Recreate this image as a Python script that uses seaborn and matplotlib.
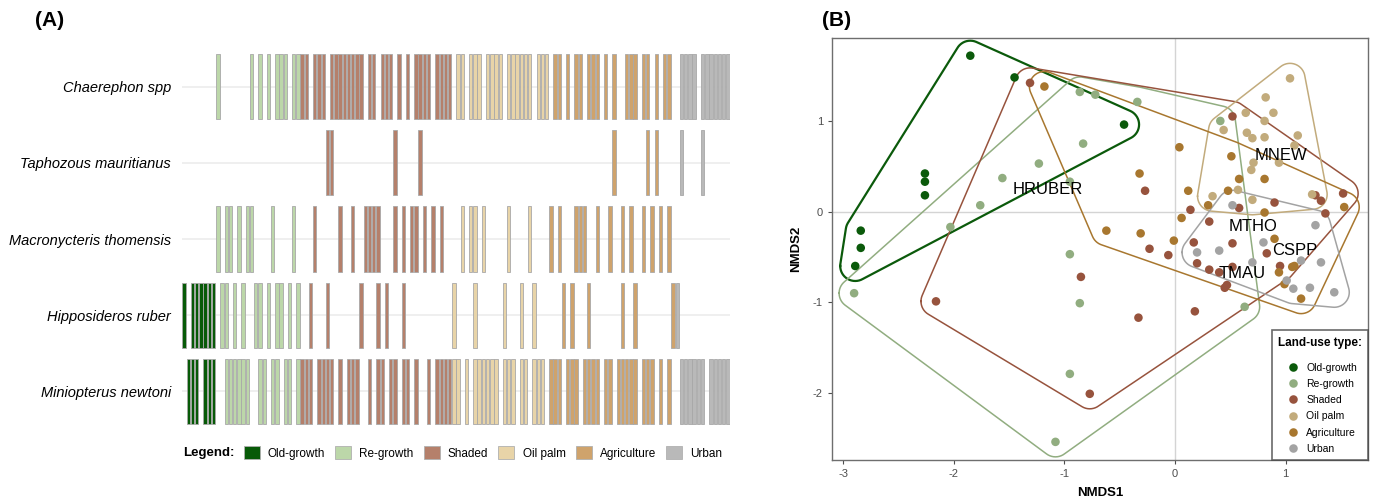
import numpy as np
import pandas as pd
import seaborn as sns
import matplotlib.pyplot as plt
from matplotlib.patches import Patch

# land-use types and colours
land_uses = ['Old-growth', 'Re-growth', 'Shaded', 'Oil palm', 'Agriculture', 'Urban']
bar_colors = ['#075a07', '#bcd7a9', '#b5806b', '#e8d4a8', '#cfa36c', '#b9b9b9']
point_colors = ['#0b5a0b', '#91ad80', '#97533d', '#c2ab7c', '#a8772f', '#a3a3a3']
sites_per_use = [8, 20, 36, 23, 30, 13]

# (A) sites (ordered by land use) where each species was detected
species = ['Chaerephon spp', 'Taphozous mauritianus', 'Macronycteris thomensis',
           'Hipposideros ruber', 'Miniopterus newtoni']
chaerephon = [8, 16, 18, 20, 22, 23, 24, 26, 27,
              28, 29, 31, 32, 33, 35, 36, 37, 38, 39, 40, 41, 42, 44, 45, 47, 48, 49, 51, 53, 55,
              56, 57, 58, 60, 61, 62, 63,
              65, 66, 68, 69, 70, 72, 73, 74, 75, 77, 78, 79, 80, 81, 82, 84, 85, 86,
              88, 89, 91, 93, 94, 96, 97, 98, 100, 102, 105, 106, 107, 109, 110, 112, 114, 115,
              118, 119, 120, 121, 123, 124, 125, 126, 127, 128, 129]
taphozous = [34, 35, 50, 56, 102, 110, 112, 118, 123]
macronycteris = [8, 10, 11, 13, 15, 16, 21, 26,
                 31, 37, 40, 43, 44, 45, 46, 50, 52, 54, 55, 57, 59, 61,
                 66, 68, 69, 71, 77, 82,
                 87, 89, 93, 94, 95, 98, 101, 104, 106, 109, 111, 113, 115]
hipposideros = [0, 2, 3, 4, 5, 6, 7,
                9, 10, 12, 14, 17, 18, 20, 22, 23, 25, 27,
                30, 34, 42, 46, 48, 52,
                64, 69, 76, 80, 83,
                90, 92, 96, 104, 107, 116, 117]
miniopterus = [1, 2, 3, 5, 6, 7,
               10, 11, 12, 13, 14, 15, 18, 19, 21, 22, 24, 25, 27,
               28, 29, 30, 32, 33, 34, 35, 37, 39, 40, 41, 44, 46, 47, 49, 50, 52, 53, 55, 58,
               60, 61, 62, 63,
               64, 65, 67, 69, 70, 71, 72, 73, 74, 76, 77, 78, 80, 81, 83, 84, 85,
               87, 88, 89, 91, 92, 93, 95, 96, 97, 98, 100, 101, 103, 104, 105, 106, 107, 109,
               110, 111, 113, 115,
               118, 119, 120, 121, 122, 123, 125, 126, 127, 128, 129]
presence = [chaerephon, taphozous, macronycteris, hipposideros, miniopterus]

# (B) NMDS site scores per land use
oldgrowth_pts = [(-1.85, 1.72), (-1.45, 1.48), (-0.46, 0.96), (-2.26, 0.42), (-2.26, 0.33),
                 (-2.26, 0.18), (-2.84, -0.21), (-2.84, -0.40), (-2.89, -0.60)]
regrowth_pts = [(-0.86, 1.32), (-0.72, 1.29), (-0.34, 1.21), (0.41, 1.00), (-0.83, 0.75),
                (-1.23, 0.53), (-1.56, 0.37), (-0.95, 0.33), (-1.76, 0.07), (-2.03, -0.17),
                (-2.90, -0.90), (-0.95, -0.47), (-0.86, -1.01), (-0.95, -1.79), (-1.08, -2.54),
                (0.63, -1.05)]
shaded_pts = [(-1.31, 1.42), (0.52, 1.05), (-0.27, 0.23), (0.14, 0.02), (0.58, 0.04),
              (0.31, -0.11), (0.90, 0.10), (1.27, 0.18), (1.32, 0.12), (1.36, -0.02),
              (1.52, 0.20), (0.17, -0.34), (0.52, -0.35), (-0.23, -0.41), (-0.06, -0.48),
              (0.20, -0.57), (0.31, -0.64), (0.40, -0.67), (0.52, -0.61), (0.47, -0.81),
              (0.45, -0.84), (0.83, -0.46), (0.95, -0.60), (-0.85, -0.72), (-2.16, -0.99),
              (-0.33, -1.17), (0.18, -1.10), (-0.77, -2.01)]
oilpalm_pts = [(1.04, 1.47), (0.82, 1.26), (0.64, 1.09), (0.89, 1.09), (0.81, 1.00),
               (0.44, 0.90), (0.65, 0.87), (0.70, 0.81), (0.81, 0.82), (1.11, 0.84),
               (1.08, 0.73), (0.94, 0.54), (0.71, 0.54), (0.69, 0.46), (0.34, 0.17),
               (0.57, 0.24), (0.70, 0.13), (1.24, 0.19)]
agriculture_pts = [(-1.18, 1.38), (0.04, 0.71), (-0.32, 0.42), (0.12, 0.23), (0.48, 0.23),
                   (0.81, 0.36), (0.58, 0.36), (0.51, 0.61), (0.30, 0.07), (0.06, -0.07),
                   (0.81, -0.01), (1.53, 0.05), (0.90, -0.30), (-0.62, -0.21), (-0.31, -0.24),
                   (-0.01, -0.32), (0.94, -0.67), (0.99, -0.80), (1.06, -0.61), (1.08, -0.60),
                   (1.14, -0.96)]
urban_pts = [(0.52, 0.07), (1.27, -0.15), (0.80, -0.34), (0.20, -0.45), (0.40, -0.43),
             (0.70, -0.56), (1.14, -0.54), (1.32, -0.56), (1.01, -0.76), (1.07, -0.85),
             (1.22, -0.84), (1.44, -0.89)]
group_pts = [oldgrowth_pts, regrowth_pts, shaded_pts, oilpalm_pts, agriculture_pts, urban_pts]

species_codes = ['HRUBER', 'MNEW', 'MTHO', 'CSPP', 'TMAU']
code_x = [-1.15, 0.96, 0.71, 1.08, 0.61]
code_y = [0.24, 0.62, -0.16, -0.43, -0.68]

plt.rcParams['font.family'] = ['Liberation Sans', 'DejaVu Sans']
plt.rcParams['axes.unicode_minus'] = False

fig = plt.figure(figsize=(13.84, 4.98), dpi=100)

# ---------------- (A) presence barcode ----------------
axA = fig.add_axes([182 / 1384, 1 - 433 / 498, 548 / 1384, 388 / 498])
bounds = np.cumsum([0] + sites_per_use)


def site_color(s):
    k = np.searchsorted(bounds, s, side='right') - 1
    return bar_colors[k]


for i, sites in enumerate(presence):
    axA.axhline(i, color='#ececec', lw=1.2, zorder=0)
    axA.bar(sites, 0.855, bottom=i - 0.4275, width=0.8,
            color=[site_color(s) for s in sites], edgecolor='#a8a8a8', linewidth=0.6, zorder=2)

axA.set_xlim(-0.5, sum(sites_per_use) - 0.5)
axA.set_ylim(4.55, -0.55)
axA.set_yticks(range(len(species)))
axA.set_yticklabels(species, fontstyle='italic', fontsize=10.5)
axA.tick_params(axis='y', length=0, pad=8)
axA.set_xticks([])
for sp in axA.spines.values():
    sp.set_visible(False)

handles = [Patch(facecolor=c, edgecolor='#b0b0b0', linewidth=0.6) for c in bar_colors]
fig.text(183 / 1384, 1 - 453 / 498, 'Legend:', fontsize=9.5, fontweight='bold', va='center')
fig.legend(handles, land_uses, ncol=6, loc='center left', bbox_to_anchor=(233 / 1384, 1 - 453 / 498),
           frameon=False, fontsize=8.5, handlelength=1.35, handleheight=1.35,
           handletextpad=0.7, columnspacing=0.85)

# ---------------- (B) NMDS ----------------
axB = fig.add_axes([832 / 1384, 1 - 460 / 498, 536 / 1384, 422 / 498])

rows = []
for lu, pts in zip(land_uses, group_pts):
    for x, y in pts:
        rows.append((lu, x, y))
df = pd.DataFrame(rows, columns=['Land use', 'NMDS1', 'NMDS2'])

sx, sy = 110.5, 90.7


def rounded_hull(x, y, r=15):
    P = np.column_stack([np.asarray(x) * sx, np.asarray(y) * sy])
    ang = np.linspace(0, 2 * np.pi, 48, endpoint=False)
    circ = r * np.column_stack([np.cos(ang), np.sin(ang)])
    pts = sorted(map(tuple, (P[:, None, :] + circ[None, :, :]).reshape(-1, 2)))

    def cross(o, a, b):
        return (a[0] - o[0]) * (b[1] - o[1]) - (a[1] - o[1]) * (b[0] - o[0])
    lower, upper = [], []
    for p in pts:
        while len(lower) >= 2 and cross(lower[-2], lower[-1], p) <= 0:
            lower.pop()
        lower.append(p)
    for p in reversed(pts):
        while len(upper) >= 2 and cross(upper[-2], upper[-1], p) <= 0:
            upper.pop()
        upper.append(p)
    h = np.array(lower[:-1] + upper[:-1])
    h = np.vstack([h, h[:1]])
    return h[:, 0] / sx, h[:, 1] / sy


axB.axhline(0, color='#d4d4d4', lw=1, zorder=0)
axB.axvline(0, color='#d4d4d4', lw=1, zorder=0)
for k, lu in enumerate(land_uses):
    sub = df[df['Land use'] == lu]
    hx, hy = rounded_hull(sub['NMDS1'], sub['NMDS2'])
    axB.plot(hx, hy, color=point_colors[k], lw=1.6 if k == 0 else 1.1, zorder=1)

sns.scatterplot(data=df, x='NMDS1', y='NMDS2', hue='Land use', hue_order=land_uses,
                palette=point_colors, s=38, edgecolor='none', ax=axB, zorder=3)

for code, x, y in zip(species_codes, code_x, code_y):
    axB.text(x, y, code, fontsize=12, ha='center', va='center', zorder=4)

axB.set_xlim(-3.1, 1.745)
axB.set_ylim(-2.74, 1.915)
axB.set_xticks([-3, -2, -1, 0, 1])
axB.set_yticks([-2, -1, 0, 1])
axB.tick_params(labelsize=8, colors='#4d4d4d', length=3, width=0.8)
axB.set_xlabel('NMDS1', fontsize=9.5, fontweight='bold', labelpad=6)
axB.set_ylabel('NMDS2', fontsize=9.5, fontweight='bold', labelpad=8)
for sp in axB.spines.values():
    sp.set_color('#6e6e6e')
    sp.set_linewidth(1)

leg = axB.legend(title='Land-use type:', loc='lower right', borderaxespad=0, fontsize=7.5,
                 title_fontsize=8.5, frameon=True, fancybox=False, edgecolor='#444444',
                 markerscale=1.0, handletextpad=0.3, labelspacing=0.6, borderpad=0.6)
leg.get_title().set_fontweight('bold')
leg.get_frame().set_linewidth(1.2)
leg._legend_box.sep = 10

fig.text(35 / 1384, 1 - 20 / 498, '(A)', fontsize=15, fontweight='bold', va='center')
fig.text(822 / 1384, 1 - 20 / 498, '(B)', fontsize=15, fontweight='bold', va='center')

fig.savefig('out.png', dpi=100)
